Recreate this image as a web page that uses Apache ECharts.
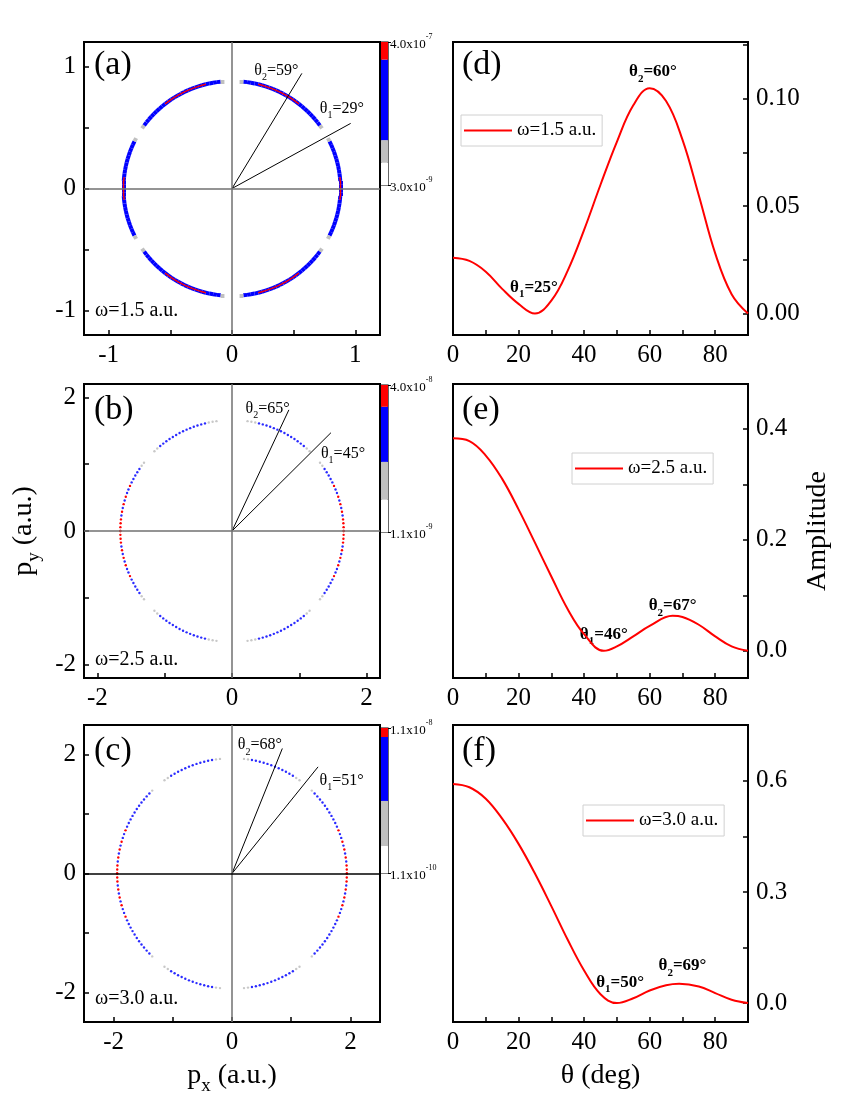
<!DOCTYPE html>
<html>
<head>
<meta charset="utf-8">
<script src="https://cdn.jsdelivr.net/npm/echarts@6/dist/echarts.min.js"></script>
<style>
html,body{margin:0;padding:0;background:#fff;}
#chart{width:850px;height:1100px;}
</style>
</head>
<body>
<div id="chart"></div>
<script>
var FONT = 'Liberation Serif';

// ---- ring panels (a)(b)(c): first quadrant, mirrored to the others ----
var ringAngles = [0,2,4,6,8,10,12,14,16,18,20,22,24,26,28,30,32,34,36,38,40,42,44,46,48,50,52,54,56,58,60,62,64,66,68,70,72,74,76,78,80,82,84,86,88,90];
// 0 = nothing, 1 = grey, 2 = blue, 3 = red
var ringLevelsA = [3,3,3,3,2,2,2,2,2,2,2,2,2,2,1,0,0,1,2,2,2,2,2,2,2,2,3,3,3,3,3,3,3,3,3,3,3,3,3,2,2,2,2,1,0,0];
var ringLevelsB = [3,3,3,3,2,3,2,3,2,3,2,2,3,2,2,2,2,2,1,1,0,0,0,1,1,2,2,2,2,2,2,2,2,2,2,2,2,2,2,1,1,1,0,0,0,0];
var ringLevelsC = [3,3,3,2,3,2,3,2,3,2,2,3,2,2,2,2,2,2,2,2,2,2,2,1,0,0,0,1,1,2,2,2,2,2,2,2,2,2,2,2,2,1,1,0,0,0];
var ringRadius = [0.88, 1.66, 1.94];
var thetaLineAngles = [[59, 29], [65, 45], [68, 51]];
var thetaLineLengths = [[1.1, 1.1], [2.0, 2.08], [2.27, 2.31]];
var omegaLabels = ['ω=1.5 a.u.', 'ω=2.5 a.u.', 'ω=3.0 a.u.'];

// colour bars: white, grey, blue, red band heights (bottom to top)
var cbColors = ['#ffffff', '#c0c0c0', '#0000ff', '#ff0000'];
var cbBandsA = [0.156, 0.158, 0.563, 0.123];
var cbBandsB = [0.22, 0.257, 0.375, 0.148];
var cbBandsC = [0.186, 0.311, 0.441, 0.062];
var cbLabelsA = [['3.0x10', '-9'], ['4.0x10', '-7']];
var cbLabelsB = [['1.1x10', '-9'], ['4.0x10', '-8']];
var cbLabelsC = [['1.1x10', '-10'], ['1.1x10', '-8']];

// ---- amplitude curves (d)(e)(f) ----
var thetaD = [0,5,10,15,20,25,30,35,40,45,50,55,60,65,70,75,80,85,90];
var ampD = [0.026,0.0245,0.0195,0.0115,0.0045,0.0,0.006,0.020,0.039,0.060,0.080,0.097,0.105,0.099,0.081,0.055,0.028,0.009,0.0];
var thetaE = [0,5,10,15,20,25,30,35,40,46,50,55,60,67,70,75,80,85,90];
var ampE = [0.383,0.378,0.352,0.310,0.255,0.195,0.134,0.075,0.030,0.0,0.008,0.026,0.045,0.063,0.061,0.047,0.026,0.008,0.0];
var thetaF = [0,5,10,15,20,25,30,35,40,45,50,55,60,65,69,75,80,85,90];
var ampF = [0.592,0.583,0.552,0.498,0.430,0.350,0.262,0.171,0.088,0.024,0.0,0.013,0.034,0.048,0.052,0.045,0.027,0.009,0.0];
var curveNames = ['ω=1.5 a.u.', 'ω=2.5 a.u.', 'ω=3.0 a.u.'];

var chart = echarts.init(document.getElementById('chart'));

var grids = [
	{left: 84, top: 42, width: 296, height: 293},
	{left: 84, top: 384, width: 296, height: 294},
	{left: 84, top: 725, width: 296, height: 297},
	{left: 453, top: 42, width: 295, height: 293},
	{left: 453, top: 384, width: 295, height: 294},
	{left: 453, top: 725, width: 295, height: 297},
	{left: 381, top: 42, width: 7, height: 143},
	{left: 381, top: 385, width: 7, height: 147},
	{left: 381, top: 728, width: 7, height: 145}
];
grids.forEach(function(g, i) {
	g.show = true;
	g.borderColor = '#000';
	g.borderWidth = i < 6 ? 2 : 1.2;
	g.backgroundColor = 'transparent';
});

function valAxis(gi, min, max, labelVals, tickVals, fmt, extra) {
	var ax = {
		type: 'value', gridIndex: gi, min: min, max: max,
		axisLine: {show: false, onZero: false},
		axisTick: {show: true, inside: true, length: 5, customValues: tickVals, lineStyle: {color: '#000', width: 1.5}},
		axisLabel: {customValues: labelVals, color: '#000', fontFamily: FONT, fontSize: 25, margin: 8},
		splitLine: {show: false}
	};
	if (fmt) ax.axisLabel.formatter = fmt;
	for (var k in extra) ax[k] = extra[k];
	return ax;
}

var nameRich = {
	p: {fontFamily: FONT, fontSize: 28, color: '#000', lineHeight: 34, verticalAlign: 'top'},
	s: {fontFamily: FONT, fontSize: 19, color: '#000', lineHeight: 22, verticalAlign: 'bottom'}
};

var xAxes = [
	valAxis(0, -1.2, 1.2, [-1, 0, 1], [-1, -0.5, 0, 0.5, 1]),
	valAxis(1, -2.2, 2.2, [-2, 0, 2], [-2, -1, 0, 1, 2]),
	valAxis(2, -2.5, 2.5, [-2, 0, 2], [-2, -1, 0, 1, 2], null, {
		name: '{p|p}{s|x}{p| (a.u.)}', nameLocation: 'middle', nameGap: 40,
		nameTextStyle: {rich: nameRich}
	}),
	valAxis(3, 0, 90, [0, 20, 40, 60, 80], [0, 10, 20, 30, 40, 50, 60, 70, 80]),
	valAxis(4, 0, 90, [0, 20, 40, 60, 80], [0, 10, 20, 30, 40, 50, 60, 70, 80]),
	valAxis(5, 0, 90, [0, 20, 40, 60, 80], [0, 10, 20, 30, 40, 50, 60, 70, 80], null, {
		name: 'θ (deg)', nameLocation: 'middle', nameGap: 40,
		nameTextStyle: {fontFamily: FONT, fontSize: 28, color: '#000'}
	})
];
var yAxes = [
	valAxis(0, -1.2, 1.2, [-1, 0, 1], [-1, -0.5, 0, 0.5, 1]),
	valAxis(1, -2.2, 2.2, [-2, 0, 2], [-2, -1, 0, 1, 2], null, {
		name: '{p|p}{s|y}{p| (a.u.)}', nameLocation: 'middle', nameGap: 40, nameRotate: 90,
		nameTextStyle: {rich: nameRich}
	}),
	valAxis(2, -2.5, 2.5, [-2, 0, 2], [-2, -1, 0, 1, 2]),
	valAxis(3, -0.01, 0.1265, [0, 0.05, 0.1], [0, 0.025, 0.05, 0.075, 0.1, 0.125],
		function(v) { return v.toFixed(2); }, {position: 'right'}),
	valAxis(4, -0.049, 0.481, [0, 0.2, 0.4], [0, 0.1, 0.2, 0.3, 0.4],
		function(v) { return v.toFixed(1); }, {
			position: 'right', name: 'Amplitude', nameLocation: 'middle', nameGap: 56, nameRotate: 90,
			nameTextStyle: {fontFamily: FONT, fontSize: 28, color: '#000'}
		}),
	valAxis(5, -0.051, 0.751, [0, 0.3, 0.6], [0, 0.15, 0.3, 0.45, 0.6],
		function(v) { return v.toFixed(1); }, {position: 'right'})
];

// colour bar axes
var cbSets = [cbBandsA, cbBandsB, cbBandsC];
var cbLabs = [cbLabelsA, cbLabelsB, cbLabelsC];
var series = [];
cbSets.forEach(function(bands, i) {
	var gi = 6 + i;
	xAxes.push({type: 'category', gridIndex: gi, data: ['c'], show: false});
	var labs = cbLabs[i];
	yAxes.push({
		type: 'value', gridIndex: gi, min: 0, max: 1, position: 'right',
		axisLine: {show: false, onZero: false}, splitLine: {show: false},
		axisTick: {show: true, inside: false, length: 3, customValues: [0, 1], lineStyle: {color: '#000', width: 1}},
		axisLabel: {
			customValues: [0, 1], margin: 2,
			formatter: function(v) {
				var l = v > 0.5 ? labs[1] : labs[0];
				return '{n|' + l[0] + '}{s|' + l[1] + '}';
			},
			rich: {
				n: {fontFamily: FONT, fontSize: 13, color: '#000', lineHeight: 18, verticalAlign: 'bottom'},
				s: {fontFamily: FONT, fontSize: 8, color: '#000', lineHeight: 8, verticalAlign: 'top'}
			}
		}
	});
	bands.forEach(function(h, k) {
		series.push({
			type: 'bar', xAxisIndex: gi, yAxisIndex: gi, stack: 'cb' + i, barWidth: '100%',
			data: [h], itemStyle: {color: cbColors[k]}, silent: true
		});
	});
});

// ring panels
var ringSets = [ringLevelsA, ringLevelsB, ringLevelsC];
var thetaLabelPos = [
	[[0.36, 0.95], [0.89, 0.64]],
	[[0.53, 1.8], [1.65, 1.13]],
	[[0.47, 2.13], [1.85, 1.53]]
];
var smallRich = {
	t: {fontFamily: FONT, fontSize: 16, color: '#000', lineHeight: 20, verticalAlign: 'top'},
	s: {fontFamily: FONT, fontSize: 10, color: '#000', lineHeight: 10, verticalAlign: 'bottom'}
};
var mirrors = [
	function(a) { return a; },
	function(a) { return 180 - a; },
	function(a) { return 180 + a; },
	function(a) { return 360 - a; }
];
function polar(r, d) {
	return [r * Math.cos(d * Math.PI / 180), r * Math.sin(d * Math.PI / 180)];
}
var crossLines = function(gi) {
	return {
		silent: true, symbol: 'none', label: {show: false},
		lineStyle: {color: '#707070', width: 1.5, type: 'solid'},
		data: [{xAxis: 0}, {yAxis: 0, lineStyle: {color: gi === 2 ? '#000' : '#707070', width: 1.5, type: 'solid'}}]
	};
};
ringSets.forEach(function(levels, gi) {
	var r = ringRadius[gi];
	if (gi === 0) {
		// solid ring: segments between neighbouring sampled angles
		var segs = [], redSegs = [];
		mirrors.forEach(function(m) {
			for (var i = 0; i + 1 < ringAngles.length; i++) {
				var l0 = levels[i], l1 = levels[i + 1];
				if (!l0 || !l1) continue;
				var c = [polar(r, m(ringAngles[i])), polar(r, m(ringAngles[i + 1]))];
				segs.push({coords: c, lineStyle: {color: Math.min(l0, l1) === 1 ? '#c0c0c0' : '#0000ff'}});
				if (l0 === 3 && l1 === 3) redSegs.push({coords: c});
			}
		});
		series.push({
			type: 'lines', coordinateSystem: 'cartesian2d', xAxisIndex: gi, yAxisIndex: gi, silent: true,
			lineStyle: {width: 4, opacity: 1, cap: 'butt'}, data: segs, z: 2,
			markLine: crossLines(gi)
		});
		series.push({
			type: 'lines', coordinateSystem: 'cartesian2d', xAxisIndex: gi, yAxisIndex: gi, silent: true,
			lineStyle: {width: 1.4, opacity: 1, color: '#ff0000'}, data: redSegs, z: 3
		});
	} else {
		var gray = [], blue = [], red = [];
		for (var i = 0; i < ringAngles.length; i++) {
			var lv = levels[i];
			if (!lv) continue;
			mirrors.forEach(function(m) {
				var p = polar(r, m(ringAngles[i]));
				if (lv === 1) gray.push(p);
				else if (lv === 2) blue.push(p);
				else red.push(p);
			});
		}
		series.push({
			type: 'scatter', xAxisIndex: gi, yAxisIndex: gi, data: gray, symbolSize: 2.4,
			itemStyle: {color: '#c8c8c8', opacity: 1}, silent: true
		});
		series.push({
			type: 'scatter', xAxisIndex: gi, yAxisIndex: gi, data: blue, symbolSize: 2.4,
			itemStyle: {color: '#2a2aff', opacity: 1}, silent: true, markLine: crossLines(gi)
		});
		series.push({
			type: 'scatter', xAxisIndex: gi, yAxisIndex: gi, data: red, symbolSize: 2.4,
			itemStyle: {color: '#ff0000', opacity: 1}, silent: true, z: 3
		});
	}
	// theta direction lines
	var ang = thetaLineAngles[gi], len = thetaLineLengths[gi];
	series.push({
		type: 'lines', coordinateSystem: 'cartesian2d', xAxisIndex: gi, yAxisIndex: gi, silent: true,
		lineStyle: {color: '#000', width: 1, opacity: 1},
		data: ang.map(function(t, k) { return {coords: [[0, 0], polar(len[k], t)]}; }),
		z: 4
	});
	var pos = thetaLabelPos[gi];
	series.push({
		type: 'scatter', xAxisIndex: gi, yAxisIndex: gi, symbolSize: 0, silent: true, z: 5,
		itemStyle: {opacity: 1},
		data: [
			{value: pos[0], label: {formatter: '{t|θ}{s|2}{t|=' + ang[0] + '°}'}},
			{value: pos[1], label: {formatter: '{t|θ}{s|1}{t|=' + ang[1] + '°}'}}
		],
		label: {show: true, position: 'inside', rich: smallRich}
	});
});

// amplitude panels
var curveX = [thetaD, thetaE, thetaF];
var curveY = [ampD, ampE, ampF];
var extremaLabels = [
	[[24.7, 0.0112, '1', 25], [61, 0.1116, '2', 60]],
	[[46, 0.026, '1', 46], [67, 0.077, '2', 67]],
	[[51, 0.051, '1', 50], [70, 0.095, '2', 69]]
];
var boldRich = {
	t: {fontFamily: FONT, fontSize: 17, fontWeight: 'bold', color: '#000', lineHeight: 21, verticalAlign: 'top'},
	s: {fontFamily: FONT, fontSize: 11, fontWeight: 'bold', color: '#000', lineHeight: 11, verticalAlign: 'bottom'}
};
curveX.forEach(function(xs, i) {
	var gi = 3 + i;
	series.push({
		type: 'line', name: curveNames[i], xAxisIndex: gi, yAxisIndex: gi,
		data: xs.map(function(x, k) { return [x, curveY[i][k]]; }),
		smooth: 0.4, symbol: 'none', showSymbol: false,
		lineStyle: {color: '#ff0000', width: 2}, itemStyle: {color: '#ff0000'}
	});
	series.push({
		type: 'scatter', xAxisIndex: gi, yAxisIndex: gi, symbolSize: 0, silent: true,
		itemStyle: {opacity: 1},
		data: extremaLabels[i].map(function(e) {
			return {value: [e[0], e[1]], label: {formatter: '{t|θ}{s|' + e[2] + '}{t|=' + e[3] + '°}'}};
		}),
		label: {show: true, position: 'inside', rich: boldRich}
	});
});

var legendCommon = {
	orient: 'horizontal', itemWidth: 48, itemHeight: 2, itemGap: 0, selectedMode: false,
	borderColor: '#d0d0d0', borderWidth: 1, padding: [6, 6, 6, 3],
	textStyle: {fontFamily: FONT, fontSize: 19, color: '#000'}
};
function legendAt(name, left, top) {
	var l = {data: [{name: name, icon: 'rect'}], left: left, top: top};
	for (var k in legendCommon) l[k] = legendCommon[k];
	return l;
}

var titleStyle = {fontFamily: FONT, fontSize: 34, fontWeight: 'normal', color: '#000'};
var omegaStyle = {fontFamily: FONT, fontSize: 20, fontWeight: 'normal', color: '#000'};
var titles = [
	{text: '(a)', left: 94, top: 48, padding: 0, textStyle: titleStyle},
	{text: '(b)', left: 94, top: 393, padding: 0, textStyle: titleStyle},
	{text: '(c)', left: 94, top: 734, padding: 0, textStyle: titleStyle},
	{text: '(d)', left: 462, top: 48, padding: 0, textStyle: titleStyle},
	{text: '(e)', left: 462, top: 393, padding: 0, textStyle: titleStyle},
	{text: '(f)', left: 462, top: 734, padding: 0, textStyle: titleStyle},
	{text: omegaLabels[0], left: 95, top: 301, padding: 0, textStyle: omegaStyle},
	{text: omegaLabels[1], left: 95, top: 650, padding: 0, textStyle: omegaStyle},
	{text: omegaLabels[2], left: 95, top: 989, padding: 0, textStyle: omegaStyle}
];

chart.setOption({
	animation: false,
	backgroundColor: '#fff',
	title: titles,
	grid: grids,
	xAxis: xAxes,
	yAxis: yAxes,
	legend: [
		legendAt(curveNames[0], 461, 115),
		legendAt(curveNames[1], 572, 453),
		legendAt(curveNames[2], 583, 805)
	],
	series: series
});
</script>
</body>
</html>
